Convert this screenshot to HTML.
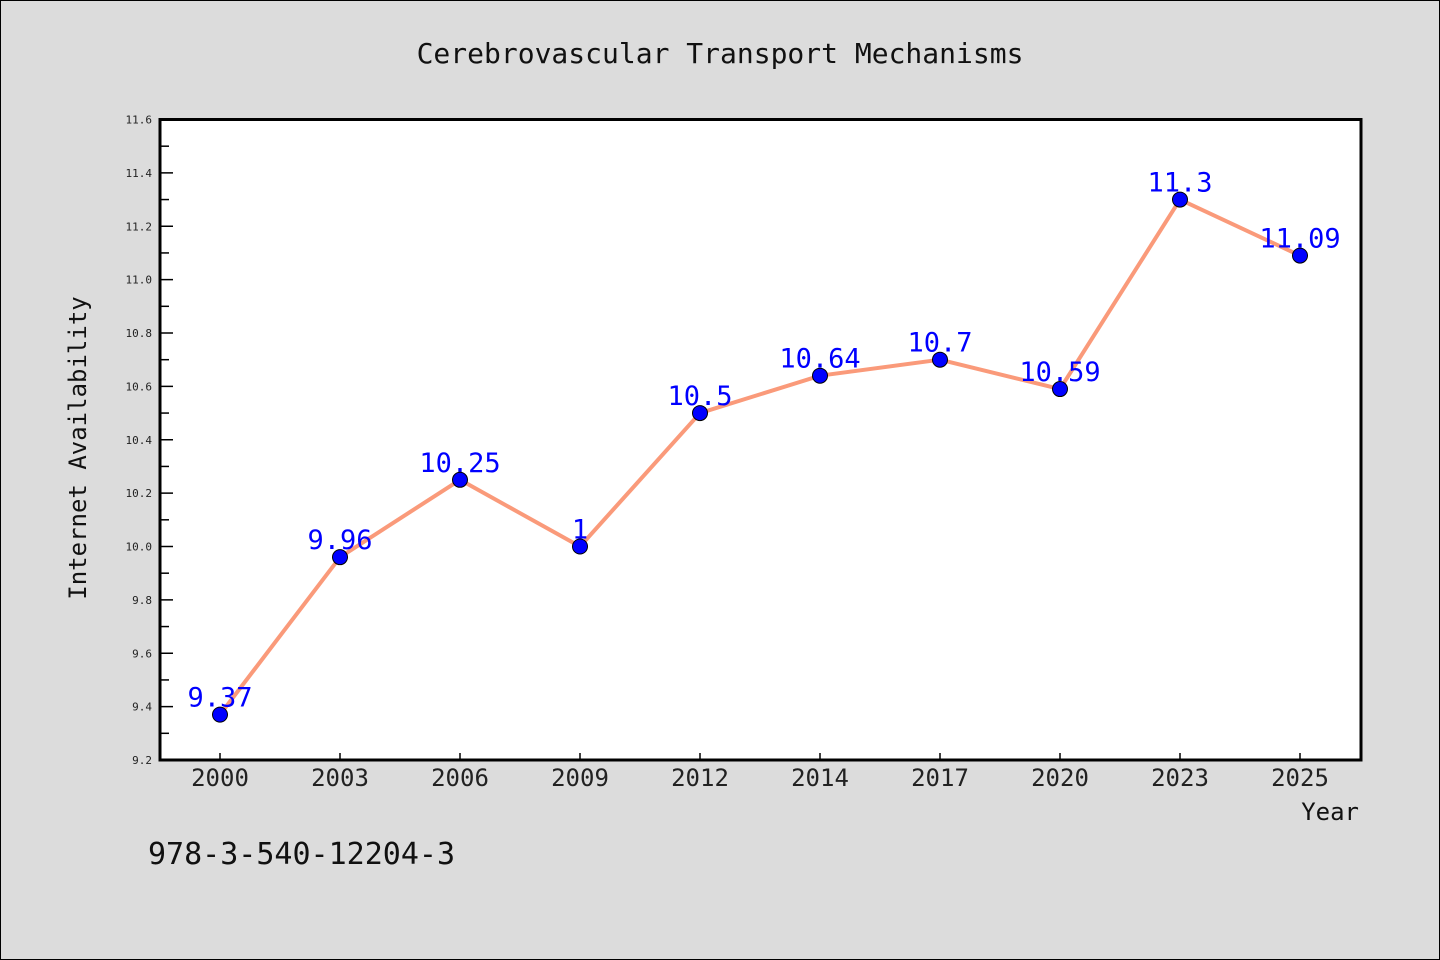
<!DOCTYPE html>
<html><head><meta charset="utf-8"><style>
html,body{margin:0;padding:0;background:#dcdcdc}
svg{display:block}
text{font-family:"DejaVu Sans Mono","Liberation Mono",monospace}
</style></head><body>
<svg id="chart" width="1440" height="960" xmlns="http://www.w3.org/2000/svg">
<rect x="0.5" y="0.5" width="1439" height="959" fill="#dcdcdc" stroke="#000"/>
<text x="720" y="63" font-size="28" text-anchor="middle" fill="#111">Cerebrovascular Transport Mechanisms</text>
<rect x="160" y="119.5" width="1201" height="640.5" fill="#fff"/>
<g id="yaxis"></g>
<g id="xaxis"></g>
<g id="series"></g>
<rect x="160" y="119.5" width="1201" height="640.5" fill="none" stroke="#000" stroke-width="3"/>
<text x="86" y="448" font-size="24" text-anchor="middle" fill="#111" transform="rotate(-90 86 448)">Internet Availability</text>
<text x="1359" y="820" font-size="24" text-anchor="end" fill="#111">Year</text>
<text x="148" y="864" font-size="30" fill="#111">978-3-540-12204-3</text>
</svg>
<script>
const categories=["2000","2003","2006","2009","2012","2014","2017","2020","2023","2025"];
const values=[9.37,9.96,10.25,10.0,10.5,10.64,10.7,10.59,11.3,11.09];
const valueLabels=["9.37","9.96","10.25","1","10.5","10.64","10.7","10.59","11.3","11.09"];
const yTicks=["9.2","9.4","9.6","9.8","10.0","10.2","10.4","10.6","10.8","11.0","11.2","11.4","11.6"];
const NS="http://www.w3.org/2000/svg";
const L=160,R=1361,T=119.5,B=760,yMin=9.2,yMax=11.6;
const x=i=>220+i*120;
const y=v=>B-(v-yMin)/(yMax-yMin)*(B-T);
function mk(tag,attrs,parent){const e=document.createElementNS(NS,tag);for(const k in attrs)e.setAttribute(k,attrs[k]);parent.appendChild(e);return e;}
const ya=document.getElementById('yaxis'),xa=document.getElementById('xaxis'),s=document.getElementById('series');
yTicks.forEach((t,i)=>{const v=parseFloat(t),yy=y(v);
 const l=mk('line',{x1:L,x2:L+13,y1:yy,y2:yy,stroke:'#000','stroke-width':1.5},ya);
 
 
 if(i<yTicks.length-1){const ym=y(v+0.1);const m=mk('line',{x1:L,x2:L+9,y1:ym,y2:ym,stroke:'#000','stroke-width':1.5},ya);
  
  }
 const tx=mk('text',{x:152,y:yy+4,'font-size':11,'text-anchor':'end',fill:'#222'},ya);tx.textContent=t;
 
 
});
categories.forEach((c,i)=>{const l=mk('line',{x1:x(i),x2:x(i),y1:B,y2:B-7,stroke:'#000','stroke-width':1.5},xa);
 
 
 const t=mk('text',{x:x(i),y:786,'font-size':24,'text-anchor':'middle',fill:'#222'},xa);t.textContent=c;
 
 
});
const pl=mk('polyline',{points:values.map((v,i)=>x(i)+','+y(v)).join(' '),fill:'none',stroke:'#fa9a7a','stroke-width':4,'stroke-linejoin':'round'},s);


values.forEach((v,i)=>{const t=mk('text',{x:x(i),y:y(v)-8,'font-size':27,'text-anchor':'middle',fill:'#0000ff'},s);t.textContent=valueLabels[i];
 
 
});
values.forEach((v,i)=>{const c=mk('circle',{cx:x(i),cy:y(v),r:7.5,fill:'#0000ff',stroke:'#000','stroke-width':1},s);
 
 
});
</script>
</body></html>
